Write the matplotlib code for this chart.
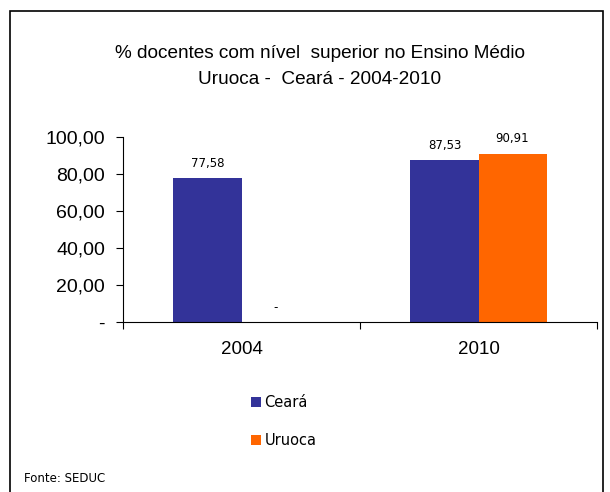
import numpy as np
import matplotlib.pyplot as plt
from matplotlib.patches import Patch, Rectangle

plt.rcParams['font.family'] = ['Liberation Sans', 'DejaVu Sans']

years = ["2004", "2010"]
ceara = [77.58, 87.53]
uruoca = [0.0, 90.91]
yticks = [0, 20, 40, 60, 80, 100]


def fmt(v):
    if v == 0:
        return "-"
    return f"{v:.2f}".replace(".", ",")


fig = plt.figure(figsize=(6.1, 4.92), dpi=100)
# outer frame of the chart area
fig.patches.append(Rectangle((10 / 610, -0.05), 593 / 610, 1.05 - 11 / 492,
                             transform=fig.transFigure, fill=False,
                             edgecolor="black", linewidth=1.2))

ax = fig.add_axes([123 / 610, 1 - 322 / 492, 474 / 610, 185 / 492])
x = np.arange(len(years)) + 0.5
w = 0.287
c_ce, c_ur = "#333399", "#FF6600"
b1 = ax.bar(x - w / 2, ceara, w, color=c_ce, label="Ceará")
b2 = ax.bar(x + w / 2, uruoca, w, color=c_ur, label="Uruoca")
for bars, vals in [(b1, ceara), (b2, uruoca)]:
    for b, v in zip(bars, vals):
        ax.annotate(fmt(v), (b.get_x() + b.get_width() / 2, v),
                    xytext=(0, 6), textcoords="offset points",
                    ha="center", va="bottom", fontsize=8.5,
                    family="DejaVu Sans")

ax.set_xlim(0, 2)
ax.set_ylim(0, 100)
ax.set_yticks(yticks)
ax.set_yticklabels([fmt(v) for v in yticks], fontsize=14)
ax.set_xticks([0, 1, 2])
ax.set_xticklabels([])
ax.set_xticks(x, minor=True)
ax.set_xticklabels(years, minor=True, fontsize=13.5)
ax.tick_params(axis="x", which="major", direction="out", length=5)
ax.tick_params(axis="x", which="minor", length=0, pad=14)
ax.tick_params(axis="y", direction="out", length=5, pad=8)
ax.spines["top"].set_visible(False)
ax.spines["right"].set_visible(False)

fig.text(320 / 610, 1 - 53 / 492, "% docentes com nível  superior no Ensino Médio",
         ha="center", va="center", fontsize=13.7)
fig.text(320 / 610, 1 - 80 / 492, "Uruoca -  Ceará - 2004-2010",
         ha="center", va="center", fontsize=13.7)

handles = [Patch(facecolor=c_ce, label="Ceará"), Patch(facecolor=c_ur, label="Uruoca")]
fig.legend(handles=handles, loc="upper left", bbox_to_anchor=(238 / 610, 1 - 382 / 492),
           frameon=False, handlelength=0.7, handleheight=0.7,
           handletextpad=0.2, labelspacing=1.55, prop={"family": "DejaVu Sans", "size": 10.5})

fig.text(24 / 610, 1 - 478 / 492, "Fonte: SEDUC", ha="left", va="center",
         fontsize=8.5, family="DejaVu Sans")

plt.savefig("out.png", dpi=100)
